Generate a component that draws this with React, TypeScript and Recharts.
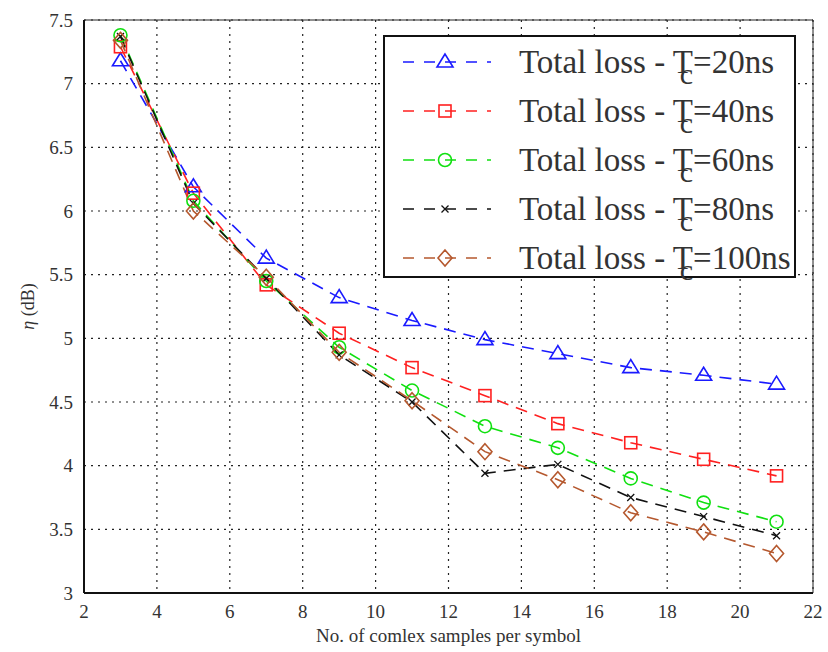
import React from 'react';
import {
  LineChart,
  Line,
  XAxis,
  YAxis,
  CartesianGrid,
  ReferenceLine,
} from 'recharts';

const samples = [3, 5, 7, 9, 11, 13, 15, 17, 19, 21];
const loss20 = [7.18, 6.19, 5.63, 5.32, 5.14, 4.99, 4.88, 4.77, 4.71, 4.64];
const loss40 = [7.29, 6.14, 5.42, 5.04, 4.77, 4.55, 4.33, 4.18, 4.05, 3.92];
const loss60 = [7.38, 6.08, 5.45, 4.93, 4.59, 4.31, 4.14, 3.9, 3.71, 3.56];
const loss80 = [7.37, 6.06, 5.47, 4.87, 4.5, 3.94, 4.01, 3.75, 3.6, 3.45];
const loss100 = [7.34, 6.0, 5.48, 4.89, 4.51, 4.11, 3.89, 3.63, 3.48, 3.31];

const xTicks = [2, 4, 6, 8, 10, 12, 14, 16, 18, 20, 22];
const yTicks = [3, 3.5, 4, 4.5, 5, 5.5, 6, 6.5, 7, 7.5];

const seriesInfo = [
  { key: 'l20', tc: '20ns', color: '#1a1aff', shape: 'triangle' },
  { key: 'l40', tc: '40ns', color: '#ff2020', shape: 'square' },
  { key: 'l60', tc: '60ns', color: '#10e010', shape: 'circle' },
  { key: 'l80', tc: '80ns', color: '#111111', shape: 'cross' },
  { key: 'l100', tc: '100ns', color: '#b5582e', shape: 'diamond' },
];

const data = samples.map((s, i) => ({
  n: s,
  l20: loss20[i],
  l40: loss40[i],
  l60: loss60[i],
  l80: loss80[i],
  l100: loss100[i],
}));

const FONT = '"Liberation Serif", "DejaVu Serif", serif';

const Marker = ({ cx, cy, shape, color }: any) => {
  const r = 7;
  const common = { fill: 'none', stroke: color, strokeWidth: 1.6 };
  switch (shape) {
    case 'triangle':
      return <polygon points={`${cx},${cy - r - 1} ${cx - r - 1},${cy + r - 2} ${cx + r + 1},${cy + r - 2}`} {...common} />;
    case 'square':
      return <rect x={cx - r + 1} y={cy - r + 1} width={2 * r - 2} height={2 * r - 2} {...common} />;
    case 'circle':
      return <circle cx={cx} cy={cy} r={r - 0.5} {...common} />;
    case 'cross':
      return (
        <path d={`M${cx - 3.5},${cy - 3.5}L${cx + 3.5},${cy + 3.5}M${cx - 3.5},${cy + 3.5}L${cx + 3.5},${cy - 3.5}`} {...common} strokeWidth={1.3} />
      );
    default:
      return <polygon points={`${cx},${cy - r - 1} ${cx + r},${cy} ${cx},${cy + r + 1} ${cx - r},${cy}`} {...common} />;
  }
};

// legend drawn over the plot, like the original figure
const LegendBox = () => (
  <div
    style={{
      position: 'absolute',
      left: 383,
      top: 35,
      width: 409,
      height: 239,
      border: '2px solid #111',
      background: '#fff',
      fontFamily: FONT,
      fontSize: 33,
      color: '#333',
    }}
  >
    {seriesInfo.map((s, i) => (
      <div key={s.key} style={{ position: 'absolute', left: 0, top: 5 + i * 49, height: 40, width: 410, display: 'flex', alignItems: 'center' }}>
        <svg width={110} height={40} style={{ flex: 'none' }}>
          <line x1={18} y1={20} x2={106} y2={20} stroke={s.color} strokeWidth={1.6} strokeDasharray="11 10" />
          <Marker cx={60} cy={20} shape={s.shape} color={s.color} />
        </svg>
        <span style={{ whiteSpace: 'nowrap', marginLeft: 24, lineHeight: '38px' }}>
          Total loss -{' '}
          <span style={{ position: 'relative' }}>
            T
            <span style={{ position: 'absolute', left: 7, top: 15, lineHeight: '30px', fontSize: 30 }}>c</span>
          </span>
          ={s.tc}
        </span>
      </div>
    ))}
  </div>
);

const YLabel = ({ viewBox }: any) => {
  const x = 34;
  const y = viewBox.y + viewBox.height / 2;
  return (
    <text x={x} y={y} transform={`rotate(-90 ${x} ${y})`} textAnchor="middle" fontFamily={FONT} fontSize={18} fill="#333">
      <tspan fontStyle="italic">η</tspan> (dB)
    </text>
  );
};

export default function App() {
  return (
    <div style={{ position: 'absolute', left: 0, top: 0, width: 828, height: 652, background: '#fff' }}>
      <LineChart width={828} height={652} data={data} margin={{ top: 20, right: 15, left: 0, bottom: 0 }}>
        <CartesianGrid stroke="#222" strokeDasharray="2 5" strokeWidth={1.2} />
        <XAxis
          dataKey="n"
          type="number"
          domain={[2, 22]}
          ticks={xTicks}
          height={59}
          tickLine={false}
          axisLine={{ stroke: '#111', strokeWidth: 2 }}
          tick={{ fontFamily: FONT, fontSize: 19, fill: '#333' }}
          tickMargin={6}
          label={{ value: 'No. of comlex samples per symbol', position: 'insideBottom', offset: 10, fontFamily: FONT, fontSize: 19, fill: '#333' }}
        />
        <YAxis
          type="number"
          domain={[3, 7.5]}
          ticks={yTicks}
          width={84}
          tickLine={false}
          axisLine={{ stroke: '#111', strokeWidth: 2 }}
          tick={{ fontFamily: FONT, fontSize: 19, fill: '#333' }}
          tickMargin={5}
          label={<YLabel />}
        />
        <ReferenceLine y={7.5} stroke="#222" strokeWidth={1} />
        <ReferenceLine x={22} stroke="#222" strokeWidth={1} />
        {seriesInfo.map((s) => (
          <Line
            key={s.key}
            dataKey={s.key}
            type="linear"
            stroke={s.color}
            strokeWidth={1.6}
            strokeDasharray="12 8"
            isAnimationActive={false}
            dot={(p: any) => <Marker key={`${s.key}-${p.index}`} cx={p.cx} cy={p.cy} shape={s.shape} color={s.color} />}
            activeDot={false}
          />
        ))}
      </LineChart>
      <LegendBox />
    </div>
  );
}
